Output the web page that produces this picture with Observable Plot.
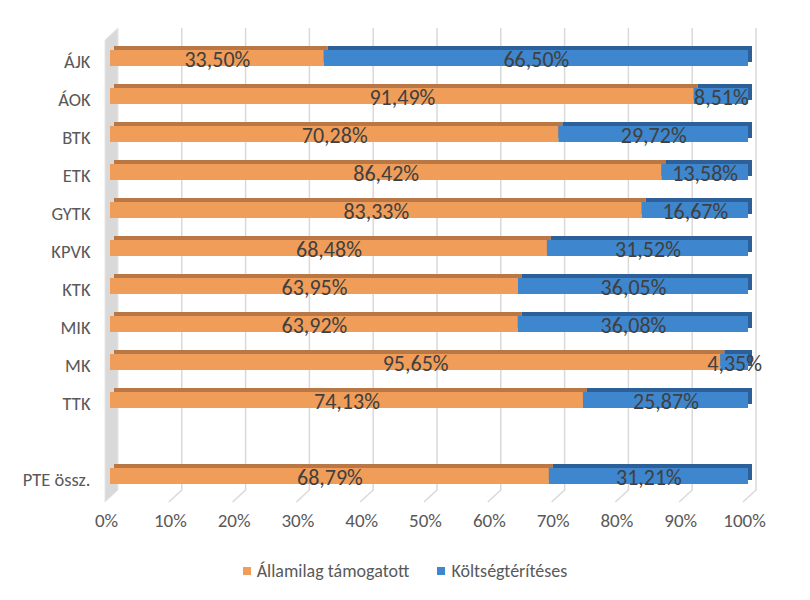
<!DOCTYPE html>
<html>
<head>
<meta charset="utf-8">
<script src="https://cdn.jsdelivr.net/npm/d3@7"></script>
<script src="https://cdn.jsdelivr.net/npm/@observablehq/plot@0.6"></script>
<style>
  html, body { margin: 0; padding: 0; background: #fff; }
  #wrap { width: 810px; height: 600px; font-family: Carlito, Lato, "Open Sans", sans-serif; }
  #legend { display: flex; justify-content: center; gap: 28px; font-size: 18px; line-height: 22px; color: #595959; margin-top: 12px; }
  #legend .item { display: flex; align-items: center; gap: 6px; }
  #legend .sw { width: 8px; height: 8px; display: inline-block; }
</style>
</head>
<body>
<div id="wrap"></div>
<script>
// ---- data ----
const categories = ["ÁJK", "ÁOK", "BTK", "ETK", "GYTK", "KPVK", "KTK", "MIK", "MK", "TTK", " ", "PTE össz."];
const allami = [33.50, 91.49, 70.28, 86.42, 83.33, 68.48, 63.95, 63.92, 95.65, 74.13, null, 68.79];
const koltseg = [66.50, 8.51, 29.72, 13.58, 16.67, 31.52, 36.05, 36.08, 4.35, 25.87, null, 31.21];
const seriesNames = ["Államilag támogatott", "Költségtérítéses"];
const xTicks = [0, 10, 20, 30, 40, 50, 60, 70, 80, 90, 100];

// ---- colours ----
const orange = "#F09D5A", orangeDark = "#B97745";
const blue = "#3E86CD", blueDark = "#2D5F99";

// ---- table built from arrays ----
const rows = categories.map((c, i) => ({cat: c, a: allami[i], b: koltseg[i]})).filter(d => d.a != null);
const orangeRows = rows.map(d => ({cat: d.cat, x1: 0, x2: d.a, v: d.a}));
const blueRows = rows.map(d => ({cat: d.cat, x1: d.a, x2: d.a + d.b, v: d.b}));
const fmt = v => v.toFixed(2).replace(".", ",") + "%";

// ---- 3D walls & grid (decoration drawn via scales) ----
function walls(index, scales, values, dimensions) {
  const x = scales.x;
  const {height, marginBottom, marginTop} = dimensions;
  const yb = height - marginBottom - 4;   // front floor
  const depthX = 13, depthY = 12;
  const fx = v => x(v) - 5, bx = v => fx(v) + depthX;
  const g = d3.create("svg:g");
  g.append("polygon")
    .attr("points", [[fx(0), yb], [bx(0), yb - depthY], [bx(0), marginTop], [fx(0), marginTop + depthY]].map(p => p.join(",")).join(" "))
    .attr("fill", "#D9D9D9").attr("stroke", "#E6E6E6");
  for (const v of xTicks.slice(1)) {
    g.append("polyline")
      .attr("points", [[bx(v), marginTop], [bx(v), yb - depthY], [fx(v), yb]].map(p => p.join(",")).join(" "))
      .attr("fill", "none").attr("stroke", "#D9D9D9").attr("stroke-width", 1.5);
  }
  return g.node();
}

const chart = Plot.plot({
  width: 810,
  height: 548,
  marginLeft: 110,
  marginRight: 62,
  marginTop: 28,
  marginBottom: 42,
  style: {fontFamily: "Carlito, Lato, 'Open Sans', sans-serif", background: "#fff", overflow: "visible"},
  x: {domain: [0, 100], axis: null, label: null},
  y: {domain: categories, paddingInner: 0.585, paddingOuter: 0.5, align: 0.5, axis: null, label: null},
  marks: [
    walls,
    // back (top/side) faces
    Plot.barX(orangeRows, {y: "cat", x1: "x1", x2: "x2", fill: orangeDark, dx: 4, dy: -4}),
    Plot.barX(blueRows, {y: "cat", x1: "x1", x2: "x2", fill: blueDark, dx: 4, dy: -4}),
    // front faces
    Plot.barX(orangeRows, {y: "cat", x1: "x1", x2: "x2", fill: orange}),
    Plot.barX(blueRows, {y: "cat", x1: "x1", x2: "x2", fill: blue}),
    // value labels
    Plot.text([...orangeRows, ...blueRows], {y: "cat", x: d => (d.x1 + d.x2) / 2, text: d => fmt(d.v), fill: "#404040", fontSize: 22, dy: 1}),
    Plot.axisY({tickSize: 0, tickPadding: 20, dy: 4, fontSize: 18.5, color: "#595959", label: null}),
    Plot.axisX({ticks: xTicks, tickFormat: d => d + "%", tickSize: 0, tickPadding: 7, dx: -4, fontSize: 19, color: "#595959", label: null})
  ]
});

const wrap = document.getElementById("wrap");
wrap.appendChild(chart);
const legend = document.createElement("div");
legend.id = "legend";
[[seriesNames[0], orange], [seriesNames[1], blue]].forEach(([name, col]) => {
  const it = document.createElement("div");
  it.className = "item";
  it.innerHTML = `<span class="sw" style="background:${col}"></span><span>${name}</span>`;
  legend.appendChild(it);
});
wrap.appendChild(legend);
</script>
</body>
</html>
